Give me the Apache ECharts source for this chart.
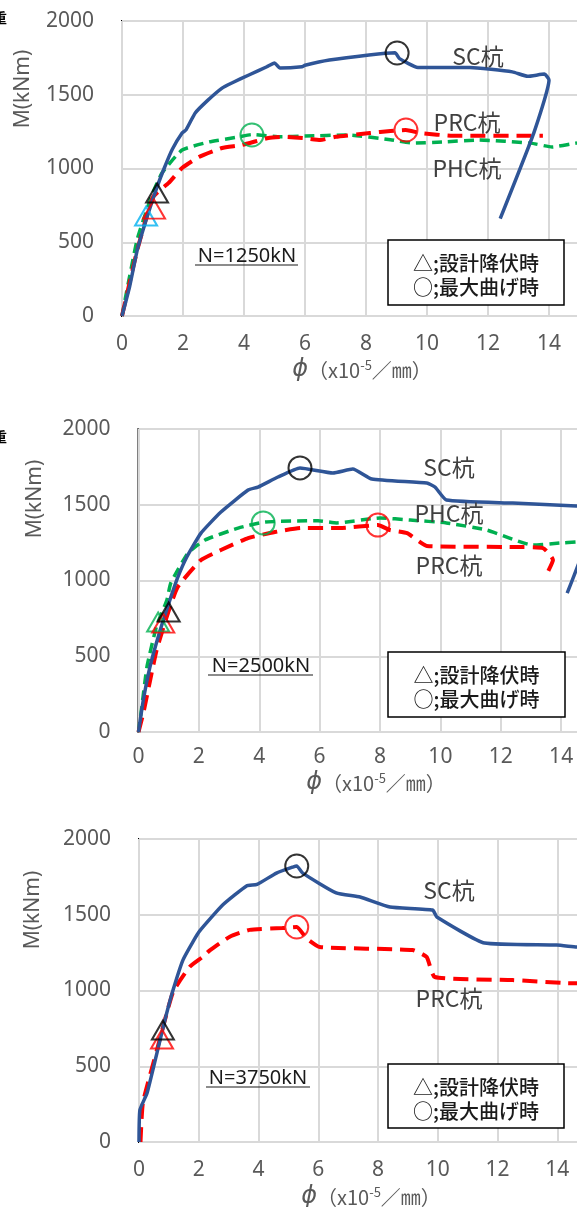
<!DOCTYPE html>
<html><head><meta charset="utf-8">
<script src="https://cdn.jsdelivr.net/npm/echarts@6/dist/echarts.min.js"></script>
<style>html,body{margin:0;padding:0;background:#fff}#c{width:577px;height:1207px}</style>
</head><body><div id="c"></div>
<script>
// ---- data: [phi (x10^-5/mm), M (kNm)] ----
const xTicks = {min:0, max:16, interval:2};
const yTicks = {min:0, max:2000, interval:500};
const panelTitles = ['N=1250kN','N=2500kN','N=3750kN'];

const sc1 = [[0,0],[0.25,200],[0.5,447],[0.85,690],[1.15,875],[1.4,1010],[1.65,1130],[1.97,1240],[2.1,1262],[2.4,1376],[2.8,1460],[3.28,1545],[3.6,1580],[4.16,1634],[4.75,1690],[5.0,1715],[5.18,1681],[5.9,1690],[6.0,1700],[6.8,1735],[8.1,1770],[8.95,1785],[9.1,1745],[9.7,1685],[11.4,1685],[12.8,1655],[13.3,1625],[13.85,1640],[14.0,1600],[13.5,1240],[12.4,660]];
const phc1 = [[0,0],[0.1,110],[0.5,520],[1.0,830],[1.31,969],[1.97,1125],[2.85,1180],[3.83,1214],[4.25,1230],[5.2,1215],[6.0,1220],[7.4,1227],[8.8,1195],[9.55,1172],[10.5,1180],[11.7,1193],[13.4,1172],[14.1,1146],[14.9,1172],[15.5,1180]];
const prc1 = [[0,0],[0.5,447],[1.02,807],[1.53,902],[1.97,1003],[2.52,1078],[3.28,1139],[3.93,1159],[4.8,1207],[5.28,1214],[6.0,1205],[6.5,1193],[7.0,1215],[8.13,1240],[8.8,1255],[9.3,1261],[9.8,1240],[10.85,1222],[13.8,1222]];

const sc2 = [[0,0],[0.15,200],[0.38,430],[0.7,660],[1.04,871],[1.3,1020],[1.6,1155],[2.07,1313],[2.73,1452],[3.63,1597],[3.96,1617],[4.62,1683],[5.35,1743],[6.44,1710],[7.1,1736],[7.73,1670],[9.55,1643],[9.82,1617],[10.2,1531],[12.4,1511],[14.5,1492],[15.0,1485],[15.1,1440],[14.2,917]];
const phc2 = [[0,0],[0.1,150],[0.28,430],[0.6,700],[0.94,871],[1.07,983],[1.64,1181],[2.2,1267],[3.3,1346],[4.19,1386],[5.95,1395],[6.57,1380],[8.0,1413],[9.0,1399],[10.2,1380],[11.54,1333],[13.06,1234],[13.96,1247],[14.5,1254],[15.5,1262]];
const prc2 = [[0,0],[0.16,125],[0.6,541],[1.0,800],[1.3,957],[2.07,1135],[2.73,1201],[3.63,1280],[4.52,1320],[5.38,1346],[6.67,1346],[7.93,1366],[8.33,1333],[8.9,1313],[9.55,1228],[12.4,1221],[13.4,1214],[13.73,1135],[13.56,1056]];

const sc3 = [[0,0],[0.03,211],[0.27,323],[0.6,587],[0.9,830],[1.14,1003],[1.47,1201],[1.8,1320],[2.04,1395],[2.8,1564],[3.6,1690],[3.95,1700],[4.6,1775],[5.15,1815],[5.28,1822],[5.48,1775],[6.6,1644],[7.4,1617],[8.4,1551],[9.83,1531],[9.97,1485],[11.57,1313],[13.98,1300],[14.65,1287],[15.5,1280]];
const prc3 = [[0.05,0],[0.13,257],[0.6,607],[1.14,990],[1.7,1157],[2.14,1223],[2.37,1265],[3.04,1355],[3.7,1400],[4.8,1412],[5.28,1419],[5.6,1346],[6.05,1287],[9.16,1267],[9.63,1221],[9.9,1089],[12.5,1069],[14.3,1049],[15.5,1045]];

// yield (triangle) and max moment (circle) points
const scYield = [[[1.15,834]],[[1.0,792]],[[0.8,739]]];
const prcYield = [[[1.05,725]],[[0.82,719]],[[0.77,680]]];
const phcYield = [[[0.79,678]],[[0.65,726]],[]];
const scMax = [[[9.02,1783]],[[5.35,1743]],[[5.28,1822]]];
const prcMax = [[[9.31,1261]],[[7.93,1366]],[[5.28,1419]]];
const phcMax = [[[4.26,1227]],[[4.13,1380]],[]];

// ---- layout ----
const grids = [
  {left:122, top:21, width:488, height:295},
  {left:138.5, top:429, width:483, height:303},
  {left:139, top:839, width:478, height:303}
];
const xMargins = [18,15,18];
const C_SC = '#2F5597', C_PHC = '#00B050', C_PRC = '#FF0000', C_PHC_TRI = '#00B0F0';
const TXT = '#595959';
const FONT = 'Noto Sans, "Noto Sans CJK JP", sans-serif';
const JFONT = '"Noto Sans CJK JP", "Noto Sans", sans-serif';

const option = {
  animation:false,
  backgroundColor:'#fff',
  grid: grids.map(g => Object.assign({show:true, borderColor:'#000', borderWidth:2, backgroundColor:'#fff', containLabel:false, outerBoundsMode:'none'}, g)),
  xAxis: grids.map((g,i) => ({
    gridIndex:i, type:'value', min:xTicks.min, max:xTicks.max, interval:xTicks.interval,
    axisLine:{show:false}, axisTick:{show:false},
    splitLine:{show:true, lineStyle:{color:'#D9D9D9', width:2}},
    axisLabel:{fontSize:21, color:TXT, margin:xMargins[i], fontFamily:FONT, formatter:v => String(v)}
  })),
  yAxis: grids.map((g,i) => ({
    gridIndex:i, type:'value', min:yTicks.min, max:yTicks.max, interval:yTicks.interval,
    axisLine:{show:false}, axisTick:{show:false},
    splitLine:{show:true, lineStyle:{color:'#D9D9D9', width:2}},
    axisLabel:{fontSize:21, color:TXT, margin:28, fontFamily:FONT, formatter:v => String(v)}
  })),
  series: [],
  graphic: []
};

function line(i, data, color, dash, width){
  option.series.push({type:'line', xAxisIndex:i, yAxisIndex:i, data:data, symbol:'none', smooth:0.15,
    lineStyle:{color:color, width:width, type:dash||'solid', cap:'butt', join:'round'}, z:3});
}
function marks(i, data, color, shape, size){
  if(!data.length) return;
  option.series.push({type:'scatter', xAxisIndex:i, yAxisIndex:i, data:data, symbol:shape, symbolSize:size,
    itemStyle:{color:'rgba(0,0,0,0)', borderColor:color, borderWidth:2}, z:5});
}
line(0, phc1, C_PHC, [10,6], 3.5);
line(0, prc1, C_PRC, [15,8], 4);
line(0, sc1, C_SC, 'solid', 3.5);
line(1, phc2, C_PHC, [10,6], 3.5);
line(1, prc2, C_PRC, [15,8], 4);
line(1, sc2, C_SC, 'solid', 3.5);
line(2, prc3, C_PRC, [15,8], 4);
line(2, sc3, C_SC, 'solid', 3.5);
for(let i=0;i<3;i++){
  marks(i, phcYield[i], i===0?C_PHC_TRI:C_PHC, 'triangle', [22,19]);
  marks(i, prcYield[i], C_PRC, 'triangle', [22,19]);
  marks(i, scYield[i], '#000', 'triangle', [22,19]);
  marks(i, phcMax[i], C_PHC, 'circle', 23);
  marks(i, prcMax[i], C_PRC, 'circle', 23);
  marks(i, scMax[i], '#000', 'circle', 23);
}

function txt(x,y,s,size,fill,font,extra){
  const st = {text:s, fill:fill, font:(extra&&extra.weight?extra.weight+' ':'')+size+'px '+font,
      textAlign:'center', textVerticalAlign:'middle', align:'center', verticalAlign:'middle'};
  if(extra && extra.rich) st.rich = extra.rich;
  option.graphic.push(Object.assign({type:'text', x:x, y:y, z:100, style:st},
    extra&&extra.rotation?{rotation:extra.rotation}:{}));
}
// series labels
const seriesLabels = [
  [['SC杭',478,56],['PRC杭',467,122],['PHC杭',467,168]],
  [['SC杭',449,467],['PHC杭',449,513],['PRC杭',449,565]],
  [['SC杭',449,890],['PRC杭',449,998]]
];
seriesLabels.forEach(arr => arr.forEach(l => txt(l[1], l[2], l[0], 23, '#404040', JFONT)));

// N labels with underline
const nPos = [[247,256,195,298,265],[261,666,208,313,675],[258,1078,206,310,1087]];
nPos.forEach((p,i) => {
  txt(p[0], p[1], panelTitles[i], 20, '#1a1a1a', FONT);
  option.graphic.push({type:'line', z:100, shape:{x1:p[2], y1:p[4], x2:p[3], y2:p[4]}, style:{stroke:'#1a1a1a', lineWidth:1.2}});
});

// legend boxes
const boxes = [[388,240,176,65],[388,652,177,65],[388,1064,176,64]];
boxes.forEach(b => {
  option.graphic.push({type:'rect', z:99, shape:{x:b[0], y:b[1], width:b[2], height:b[3]}, style:{fill:'#fff', stroke:'#000', lineWidth:1.5}});
  txt(b[0]+b[2]/2, b[1]+23, '△;設計降伏時', 20, '#1a1a1a', JFONT, {weight:500});
  txt(b[0]+b[2]/2, b[1]+47, '○;最大曲げ時', 20, '#1a1a1a', JFONT, {weight:500});
});

// axis names
const yName = [[23,89],[35,499],[33,910]];
yName.forEach(p => txt(p[0], p[1], 'M(kNm)', 21, TXT, FONT, {rotation:Math.PI/2}));
const xName = [[362,370],[376,783],[371,1197]];
const xRich = {
  p:{fontSize:24, fontStyle:'italic', fill:TXT, color:TXT, fontFamily:'DejaVu Sans'},
  t:{fontSize:20, fill:TXT, color:TXT, fontFamily:'"Noto Sans CJK JP"'},
  s:{fontSize:13, fill:TXT, color:TXT, fontFamily:'"Noto Sans CJK JP"', padding:[0,0,10,0]}
};
xName.forEach(p => txt(p[0], p[1], '{p|ϕ}{t|（x10}{s|-5}{t|／㎜）}', 20, TXT, JFONT, {rich:xRich}));

// cut-off glyphs at the left edge
txt(0, 18, '重', 14, '#000', JFONT, {weight:'bold'});
txt(0, 437, '重', 14, '#000', JFONT, {weight:'bold'});

const chart = echarts.init(document.getElementById('c'), null, {renderer:'canvas'});
chart.setOption(option);
</script></body></html>
